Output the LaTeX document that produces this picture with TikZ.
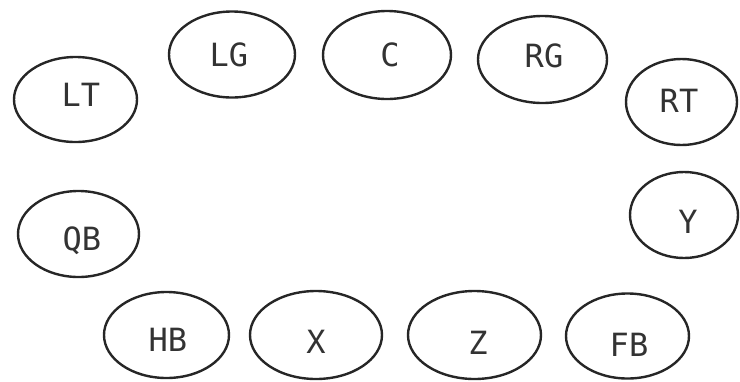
\documentclass[tikz,border=0pt]{standalone}
\usepackage{fontspec}
\setmonofont{DejaVu Sans Mono}
\usetikzlibrary{shapes.geometric}
\tikzset{
  oval/.style={draw=black!85, line width=2.4pt, ellipse, inner sep=0pt},
  lbl/.style={font=\ttfamily\fontsize{32}{32}\selectfont, text=black!80, inner sep=0pt}
}
\begin{document}
\begin{tikzpicture}[x=1pt,y=-1pt]
\useasboundingbox (0,0) rectangle (740,381);
% ellipses
\node[oval, minimum width=123pt, minimum height=85pt] (lt) at (75.5,99.5) {};
\node[oval, minimum width=126pt, minimum height=86pt] (lg) at (232,54.5) {};
\node[oval, minimum width=128pt, minimum height=88pt] (c)  at (387,55) {};
\node[oval, minimum width=129pt, minimum height=87pt] (rg) at (542.5,59.5) {};
\node[oval, minimum width=111pt, minimum height=86pt] (rt) at (681.5,102) {};
\node[oval, minimum width=108pt, minimum height=86pt] (y)  at (684,215) {};
\node[oval, minimum width=121pt, minimum height=86pt] (qb) at (78.5,234) {};
\node[oval, minimum width=125pt, minimum height=86pt] (hb) at (166.5,335) {};
\node[oval, minimum width=132pt, minimum height=88pt] (x)  at (316,335) {};
\node[oval, minimum width=133pt, minimum height=88pt] (z)  at (474.5,335) {};
\node[oval, minimum width=123pt, minimum height=85pt] (fb) at (627.5,336) {};
% labels
\node[lbl] (ltt) at (81,95) {LT};
\node[lbl] (lgt) at (229,55) {LG};
\node[lbl] (ct)  at (390,55) {C};
\node[lbl] (rgt) at (544,56) {RG};
\node[lbl] (rtt) at (679,101) {RT};
\node[lbl] (yt)  at (688,222) {Y};
\node[lbl] (qbt) at (82,241) {QB};
\node[lbl] (hbt) at (168,340) {HB};
\node[lbl] (xt)  at (316,342) {X};
\node[lbl] (zt)  at (478,343) {Z};
\node[lbl] (fbt) at (629,345) {FB};
\end{tikzpicture}
\end{document}
